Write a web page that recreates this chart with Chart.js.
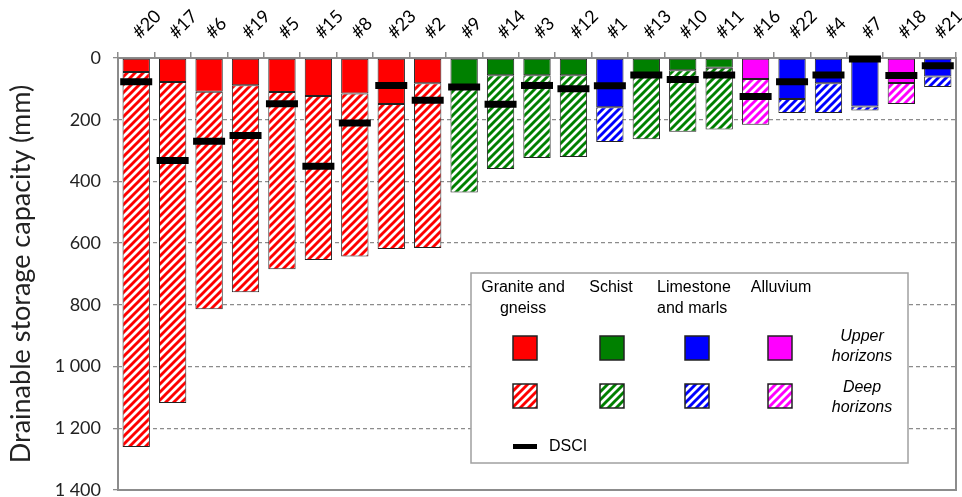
<!DOCTYPE html>
<html>
<head>
<meta charset="utf-8">
<script src="https://cdn.jsdelivr.net/npm/chart.js@4.4.1/dist/chart.umd.min.js"></script>
<style>
  html, body { margin: 0; padding: 0; background: #fff; }
</style>
</head>
<body>
<canvas id="chart" width="962" height="497"></canvas>
<script>
// data (mm)
const sites = ['#20', '#17', '#6', '#19', '#5', '#15', '#8', '#23', '#2', '#9', '#14', '#3', '#12',
               '#1', '#13', '#10', '#11', '#16', '#22', '#4', '#7', '#18', '#21'];
const rockType = ['granite', 'granite', 'granite', 'granite', 'granite', 'granite', 'granite', 'granite', 'granite',
                  'schist', 'schist', 'schist', 'schist', 'limestone', 'schist', 'schist', 'schist',
                  'alluvium', 'limestone', 'limestone', 'limestone', 'alluvium', 'limestone'];
const upperHorizons = [45, 78, 109, 88, 110, 123, 115, 149, 82, 92, 56, 56, 56, 160, 50, 40, 32, 68, 133, 82, 157, 81, 60];
const totalStorage = [1261, 1118, 814, 759, 685, 655, 643, 619, 616, 436, 360, 324, 321, 272, 263, 239, 232, 216, 178, 178, 170, 149, 94];
const dsci = [77, 332, 270, 251, 148, 351, 211, 89, 137, 94, 150, 89, 100, 90, 55, 70, 55, 125, 77, 55, 3, 57, 25];
const yTicks = [0, 200, 400, 600, 800, 1000, 1200, 1400];

const rockColors = { granite: '#ff0000', schist: '#008000', limestone: '#0000ff', alluvium: '#ff00ff' };
const legendRocks = [
    { key: 'granite', lines: ['Granite and', 'gneiss'], x: 523, align: 'center' },
    { key: 'schist', lines: ['Schist'], x: 611, align: 'center' },
    { key: 'limestone', lines: ['Limestone', 'and marls'], x: 657, align: 'left' },
    { key: 'alluvium', lines: ['Alluvium'], x: 781, align: 'center' }
];
const swatchX = [525, 612, 697, 780];

const canvas = document.getElementById('chart');
const ctx = canvas.getContext('2d');

// diagonal white/colour stripes for the deep horizons
function hatch(color) {
    const c = document.createElement('canvas');
    c.width = 8; c.height = 8;
    const g = c.getContext('2d');
    g.fillStyle = '#fff';
    g.fillRect(0, 0, 8, 8);
    g.strokeStyle = color;
    g.lineWidth = 2.9;
    g.beginPath();
    g.moveTo(-1, 9); g.lineTo(9, -1);
    g.moveTo(-5, 5); g.lineTo(5, -5);
    g.moveTo(3, 13); g.lineTo(13, 3);
    g.stroke();
    return ctx.createPattern(c, 'repeat');
}
const hatchPatterns = {};
Object.keys(rockColors).forEach(k => { hatchPatterns[k] = hatch(rockColors[k]); });

function fmt(v) {
    return String(v).replace(/\B(?=(\d{3})+(?!\d))/g, ' ');
}

function noPad(s) {
    s.paddingLeft = 0; s.paddingRight = 0; s.paddingTop = 0; s.paddingBottom = 0;
}

const framePlugin = {
    id: 'frame',
    beforeDatasetsDraw(chart) {
        const a = chart.chartArea;
        const c = chart.ctx;
        c.save();
        c.strokeStyle = '#8c8c8c';
        c.lineWidth = 2;
        c.strokeRect(a.left, a.top, a.right - a.left, a.bottom - a.top);
        c.restore();
    }
};

const legendPlugin = {
    id: 'customLegend',
    afterDraw(chart) {
        const c = chart.ctx;
        c.save();
        c.fillStyle = '#fff';
        c.fillRect(471, 273, 437, 190);
        c.strokeStyle = '#a0a0a0';
        c.lineWidth = 1.5;
        c.strokeRect(471, 273, 437, 190);

        c.fillStyle = '#000';
        c.font = '16px "Liberation Sans", Arial, sans-serif';
        c.textBaseline = 'middle';
        legendRocks.forEach((r, i) => {
            c.textAlign = r.align;
            r.lines.forEach((t, j) => c.fillText(t, r.x, 288 + j * 21));
            const sx = swatchX[i] - 12;
            c.lineWidth = 1.5;
            c.strokeStyle = '#222';
            c.fillStyle = rockColors[r.key];
            c.fillRect(sx, 336, 24, 24);
            c.strokeRect(sx, 336, 24, 24);
            c.fillStyle = hatchPatterns[r.key];
            c.fillRect(sx, 384, 24, 24);
            c.strokeRect(sx, 384, 24, 24);
            c.fillStyle = '#000';
        });

        c.font = 'italic 16px "Liberation Sans", Arial, sans-serif';
        c.textAlign = 'center';
        c.fillText('Upper', 862, 337);
        c.fillText('horizons', 862, 357);
        c.fillText('Deep', 862, 388);
        c.fillText('horizons', 862, 408);

        c.fillStyle = '#000';
        c.fillRect(513, 444, 24, 5);
        c.font = '16px "Liberation Sans", Arial, sans-serif';
        c.textAlign = 'left';
        c.fillText('DSCI', 549, 447);
        c.restore();
    }
};

new Chart(canvas, {
    type: 'bar',
    data: {
        labels: sites,
        datasets: [
            {
                type: 'line',
                label: 'DSCI',
                data: dsci,
                showLine: false,
                pointStyle: 'line',
                pointRadius: 16,
                pointHoverRadius: 16,
                pointBorderWidth: 7,
                pointBorderColor: '#000',
                borderColor: '#000',
                clip: false,
                order: 0
            },
            {
                label: 'Upper horizons',
                data: upperHorizons.map(v => [0, v]),
                backgroundColor: rockType.map(k => rockColors[k]),
                borderColor: '#222',
                borderWidth: 1,
                borderSkipped: false,
                barPercentage: 0.75,
                categoryPercentage: 1,
                order: 1
            },
            {
                label: 'Deep horizons',
                data: upperHorizons.map((v, i) => [v, totalStorage[i]]),
                backgroundColor: rockType.map(k => hatchPatterns[k]),
                borderColor: '#222',
                borderWidth: 1,
                borderSkipped: false,
                barPercentage: 0.75,
                categoryPercentage: 1,
                order: 2
            }
        ]
    },
    options: {
        responsive: false,
        animation: false,
        events: [],
        layout: { autoPadding: false, padding: { left: 0, right: 6, top: 0, bottom: 7 } },
        plugins: {
            legend: { display: false },
            tooltip: { enabled: false }
        },
        scales: {
            x: {
                position: 'top',
                stacked: true,
                offset: true,
                grid: { display: true, drawOnChartArea: false, drawTicks: true, tickLength: 6, offset: true, color: '#8c8c8c', lineWidth: 1.5 },
                border: { display: false },
                ticks: {
                    autoSkip: false,
                    minRotation: 45,
                    maxRotation: 45,
                    padding: 9,
                    labelOffset: 15,
                    color: '#000',
                    font: { family: 'Lato', size: 18 }
                },
                afterFit: s => { s.height = 58; noPad(s); }
            },
            y: {
                min: 0,
                max: 1400,
                reverse: true,
                afterBuildTicks: s => { s.ticks = yTicks.map(v => ({ value: v })); },
                ticks: {
                    padding: 12,
                    color: '#222',
                    font: { family: 'Lato', size: 18 },
                    callback: v => fmt(v)
                },
                grid: { color: '#8c8c8c', lineWidth: 1.3, tickLength: 5, drawTicks: true },
                border: { display: false, dash: [4, 3] },
                title: {
                    display: true,
                    text: 'Drainable storage capacity (mm)',
                    color: '#222',
                    font: { family: 'Lato', size: 27 },
                    padding: { top: 5, bottom: 0 }
                },
                afterFit: s => { s.width = 118; noPad(s); }
            }
        }
    },
    plugins: [framePlugin, legendPlugin]
});
</script>
</body>
</html>
